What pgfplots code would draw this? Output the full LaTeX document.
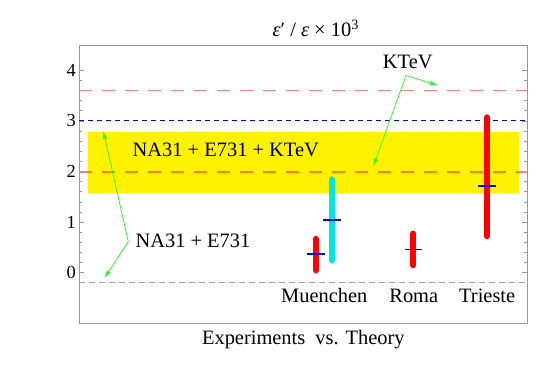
\documentclass[border=0pt]{standalone}
\usepackage{pgfplots}
\pgfplotsset{compat=1.18}
\usepackage{fontspec}
\setmainfont{Liberation Serif}
\usetikzlibrary{arrows.meta}
\definecolor{agreen}{rgb}{0.2,0.95,0.2}
\definecolor{acyan}{rgb}{0,0.9,0.9}
\definecolor{lred}{rgb}{1,0.5,0.5}
\definecolor{aorange}{rgb}{1,0.5,0}
\definecolor{lblue}{rgb}{0.6,0.6,1}
\begin{document}
\begin{tikzpicture}
\begin{axis}[
  width=448bp, height=278.3bp, scale only axis,
  xmin=0, xmax=448, ymin=-1, ymax=4.5,
  xtick=\empty,
  ytick={0,1,2,3,4}, minor y tick num=4,
  tick align=inside, tick pos=both,
  axis line style={gray!80, line width=0.8bp},
  every tick/.style={gray!80, line width=0.6bp},
  major tick length=5bp, minor tick length=3bp,
  tick label style={font=\fontsize{18.5}{20}\selectfont},
  /pgf/number format/assume math mode=true,
  clip=false,
]
% yellow band
\addplot[fill=yellow, draw=none] coordinates {(8.4,1.575) (440,1.575) (440,2.78) (8.4,2.78) (8.4,1.575)};
% horizontal reference lines
\addplot[lred, line width=1bp, dash pattern=on 13bp off 10bp] coordinates {(0,3.6) (448,3.6)};
\addplot[blue!85!black, line width=0.9bp, dash pattern=on 5bp off 4bp] coordinates {(0,3.0) (448,3.0)};
\addplot[lred, line width=2bp, dash pattern=on 13bp off 10bp] coordinates {(0,2.0) (8.4,2.0)};
\addplot[aorange, line width=2bp, dash pattern=on 13bp off 10bp, dash phase=8.4bp] coordinates {(8.4,2.0) (440,2.0)};
\addplot[lred, line width=2bp, dash pattern=on 13bp off 10bp, dash phase=440bp] coordinates {(440,2.0) (448,2.0)};
\addplot[lblue, line width=1.3bp, dash pattern=on 6bp off 4bp] coordinates {(0,-0.2) (448,-0.2)};
% theory ranges
\addplot[red, line width=6bp, line cap=round] coordinates {(236.4,0.048) (236.4,0.669)};
\addplot[acyan, line width=6bp, line cap=round] coordinates {(252.4,0.246) (252.4,1.845)};
\addplot[red, line width=6bp, line cap=round] coordinates {(334,0.147) (334,0.774)};
\addplot[red, line width=6bp, line cap=round] coordinates {(407.7,0.722) (407.7,3.07)};
% central values
\addplot[blue, line width=1.8bp] coordinates {(227.4,0.365) (245.7,0.365)};
\addplot[blue, line width=1.8bp] coordinates {(244,1.04) (261.7,1.04)};
\addplot[blue, line width=1.8bp] coordinates {(325.7,0.46) (343,0.46)};
\addplot[blue, line width=1.8bp] coordinates {(399,1.71) (416.7,1.71)};
% annotations
\draw[agreen, line width=0.8bp, -{Latex[length=8bp,width=4.5bp]}] (axis cs:326.7,3.90) -- (axis cs:359,3.70);
\draw[agreen, line width=0.8bp, -{Latex[length=8bp,width=4.5bp]}] (axis cs:326.7,3.90) -- (axis cs:294,2.10);
\draw[agreen, line width=0.8bp, -{Latex[length=8bp,width=4.5bp]}] (axis cs:49,0.615) -- (axis cs:24,2.80);
\draw[agreen, line width=0.8bp, -{Latex[length=8bp,width=4.5bp]}] (axis cs:49,0.615) -- (axis cs:25,-0.11);
\node[font=\fontsize{20.5}{22}\selectfont, inner sep=0pt, anchor=base] at (axis cs:328.5,4.04) {KTeV};
\node[font=\fontsize{20.5}{22}\selectfont, inner sep=0pt, anchor=base] at (axis cs:113.7,0.49) {NA31 + E731};
\node[font=\fontsize{20.5}{22}\selectfont, inner sep=0pt, anchor=base] at (axis cs:146.5,2.30) {NA31 + E731 + KTeV};
\node[font=\fontsize{20.5}{22}\selectfont, inner sep=0pt, anchor=base] at (axis cs:245,-0.595) {Muenchen};
\node[font=\fontsize{20.5}{22}\selectfont, inner sep=0pt, anchor=base] at (axis cs:334.5,-0.595) {Roma};
\node[font=\fontsize{20.5}{22}\selectfont, inner sep=0pt, anchor=base] at (axis cs:407.9,-0.595) {Trieste};
\node[font=\fontsize{20.5}{22}\selectfont, inner sep=0pt, anchor=base] at (axis cs:224,-1.415) {Experiments\ \ vs. Theory};
\node[font=\fontsize{20.5}{22}\selectfont, inner sep=0pt, anchor=base] at (axis cs:236.5,4.66) {\textit{ε}′ / \textit{ε} × 10\textsuperscript{3}};
\end{axis}
\pgfresetboundingbox
\path[use as bounding box] ([shift={(-79.3bp,-49.7bp)}]current axis.south west) rectangle ([shift={(17.7bp,45bp)}]current axis.north east);
\end{tikzpicture}
\end{document}
